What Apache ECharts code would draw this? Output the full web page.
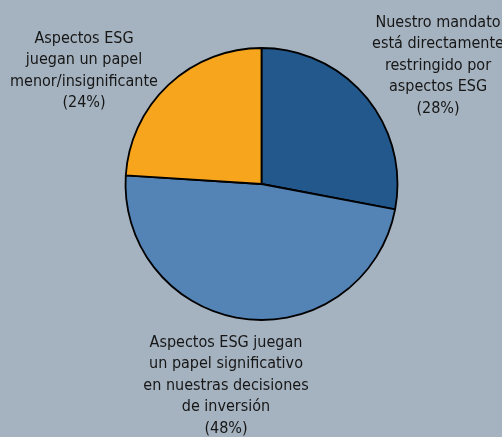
<!DOCTYPE html>
<html>
<head>
<meta charset="utf-8">
<script src="https://cdn.jsdelivr.net/npm/echarts@6/dist/echarts.min.js"></script>
<style>
  html, body { margin: 0; padding: 0; background: #a5b2bf; }
  #chart { width: 502px; height: 437px; }
</style>
</head>
<body>
<div id="chart"></div>
<script>
// data
const categories = [
  'Nuestro mandato\nestá directamente\nrestringido por\naspectos ESG',
  'Aspectos ESG juegan\nun papel significativo\nen nuestras decisiones\nde inversión',
  'Aspectos ESG\njuegan un papel\nmenor/insignificante'
]
const values = [28, 48, 24]
const colors = ['#23588c', '#5483b5', '#f7a51d']

// label anchor (top-center of each text block)
const labelAnchors = [[438, 12], [226, 332], [84, 28]]

const chart = echarts.init(document.getElementById('chart'))
chart.setOption({
  backgroundColor: '#a5b2bf',
  animation: false,
  series: [{
    type: 'pie',
    center: [261.5, 184],
    radius: 136,
    startAngle: 90,
    clockwise: true,
    data: categories.map((name, i) => ({
      name,
      value: values[i],
      itemStyle: { color: colors[i] }
    })),
    itemStyle: { borderColor: '#000', borderWidth: 1.8 },
    label: {
      show: true,
      position: 'outside',
      formatter: p => p.name + '\n(' + p.value + '%)',
      color: '#161616',
      fontFamily: '"DejaVu Sans Condensed", sans-serif',
      fontSize: 16,
      lineHeight: 21.5,
      align: 'center',
      overflow: 'none'
    },
    labelLine: { show: false },
    labelLayout: p => ({
      x: labelAnchors[p.dataIndex][0],
      y: labelAnchors[p.dataIndex][1],
      align: 'center',
      verticalAlign: 'top'
    }),
    emphasis: { disabled: true }
  }]
})
</script>
</body>
</html>
